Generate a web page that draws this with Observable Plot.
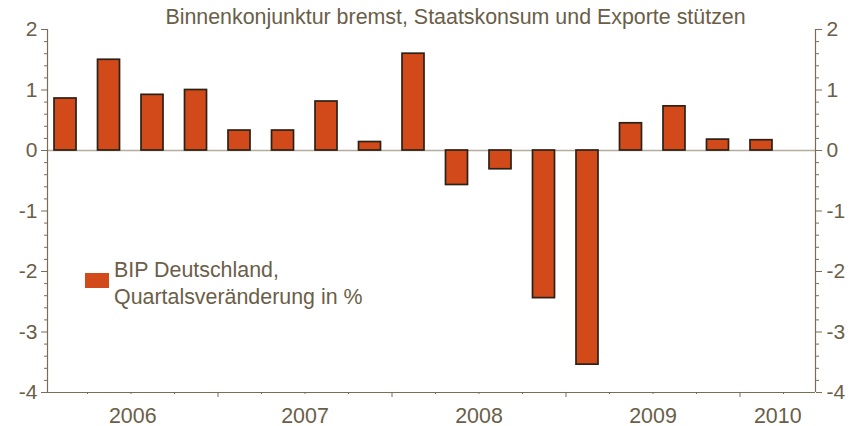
<!DOCTYPE html>
<html>
<head>
<meta charset="utf-8">
<script src="https://cdn.jsdelivr.net/npm/d3@7"></script>
<script src="https://cdn.jsdelivr.net/npm/@observablehq/plot@0.6"></script>
<style>
  html, body { margin: 0; padding: 0; background: #ffffff; }
  #wrap { position: relative; width: 857px; height: 426px; font-family: "Liberation Sans", Arial, sans-serif; }
  #legend { position: absolute; left: 85px; top: 257px; font-size: 21.4px; line-height: 27px; color: #6b5e48; }
  #legend .sw { position: absolute; left: 0; top: 16px; width: 24px; height: 15px; background: #d2491a; }
  #legend .tx { position: absolute; left: 29px; top: 0; white-space: nowrap; }
</style>
</head>
<body>
<div id="wrap"></div>
<script>
// ---- data ----
const title = "Binnenkonjunktur bremst, Staatskonsum und Exporte stützen";
const quarters = [
  "2006 Q1", "2006 Q2", "2006 Q3", "2006 Q4",
  "2007 Q1", "2007 Q2", "2007 Q3", "2007 Q4",
  "2008 Q1", "2008 Q2", "2008 Q3", "2008 Q4",
  "2009 Q1", "2009 Q2", "2009 Q3", "2009 Q4",
  "2010 Q1"
];
const values = [0.86, 1.50, 0.92, 1.00, 0.33, 0.33, 0.81, 0.14, 1.60,
                -0.57, -0.31, -2.44, -3.54, 0.45, 0.73, 0.18, 0.17];
const years = ["2006", "2007", "2008", "2009", "2010"];
const yTicks = [-4, -3, -2, -1, 0, 1, 2];
const legendLabel = ["BIP Deutschland,", "Quartalsveränderung in %"];

// ---- build ----
const data = quarters.map((q, i) => ({quarter: q, index: i, value: values[i]}));
const xDomain = [0.08, 17.736];
const yDomain = [-4, 2];
const yMinor = d3.range(-4, 2.0001, 0.2).map(v => Math.round(v * 10) / 10).filter(v => !Number.isInteger(v));
const qBounds = d3.range(1, 18);
const majorX = qBounds.filter(b => b % 4 === 0);
const minorX = qBounds.filter(b => b % 4 !== 0);
const yearData = years.map((y, k) => {
  const a = Math.max(k * 4, xDomain[0]), b = Math.min(k * 4 + 4, xDomain[1]);
  return {year: y, center: (a + b) / 2};
});

const textColor = "#6b5e48";
const axisColor = "#7a6d58";
const zeroColor = "#b5ad9e";
const barFill = "#d2491a";
const barStroke = "#2b2217";

const chart = Plot.plot({
  width: 857,
  height: 426,
  marginTop: 29,
  marginBottom: 34,
  marginLeft: 47,
  marginRight: 42,
  style: {fontFamily: "'Liberation Sans', Arial, sans-serif", fontSize: "21px", color: textColor, background: "#ffffff"},
  x: {type: "linear", domain: xDomain, axis: null},
  y: {domain: yDomain, axis: null},
  marks: [
    Plot.ruleY([0], {stroke: zeroColor, strokeWidth: 1.5}),
    Plot.rectY(data, {
      x1: "index", x2: d => d.index + 1, y: "value",
      insetLeft: 10.5, insetRight: 11,
      fill: barFill, stroke: barStroke, strokeWidth: 1.7
    }),
    // axis lines
    Plot.ruleX([xDomain[0], xDomain[1]], {stroke: axisColor, strokeWidth: 1.2}),
    Plot.ruleY([yDomain[0]], {stroke: axisColor, strokeWidth: 1.2}),
    // y axes
    Plot.axisY({anchor: "left", ticks: yTicks, tickSize: 6, tickPadding: 4, tickFormat: d => String(d), stroke: axisColor, fill: textColor, label: null}),
    Plot.axisY({anchor: "left", ticks: yMinor, tickSize: 3, tickFormat: () => "", stroke: axisColor, label: null}),
    Plot.axisY({anchor: "right", ticks: yTicks, tickSize: 6, tickPadding: 5, tickFormat: d => String(d), stroke: axisColor, fill: textColor, label: null}),
    Plot.axisY({anchor: "right", ticks: yMinor, tickSize: 3, tickFormat: () => "", stroke: axisColor, label: null}),
    // x axis ticks
    Plot.axisX({anchor: "bottom", ticks: majorX, tickSize: 5, tickFormat: () => "", stroke: axisColor, label: null}),
    Plot.axisX({anchor: "bottom", ticks: minorX, tickSize: 2, tickFormat: () => "", stroke: axisColor, label: null}),
    // year labels
    Plot.text(yearData, {x: "center", text: "year", frameAnchor: "bottom", lineAnchor: "bottom", dy: 30, fill: textColor, fontSize: 21.4}),
    // title
    Plot.text([title], {frameAnchor: "top", lineAnchor: "bottom", dx: 24, dy: -6, fill: textColor, fontSize: 21.4})
  ]
});

const wrap = document.getElementById("wrap");
wrap.appendChild(chart);
const legend = document.createElement("div");
legend.id = "legend";
legend.innerHTML = `<div class="sw"></div><div class="tx">${legendLabel.join("<br>")}</div>`;
wrap.appendChild(legend);
</script>
</body>
</html>
